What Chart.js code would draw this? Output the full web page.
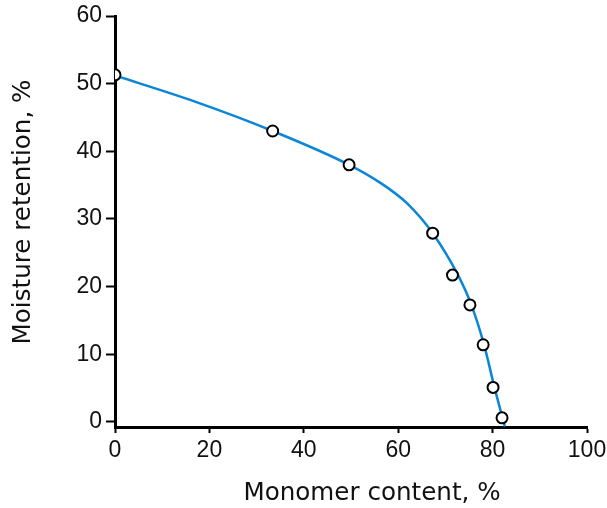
<!DOCTYPE html>
<html>
<head>
<meta charset="utf-8">
<script src="https://cdn.jsdelivr.net/npm/chart.js@4"></script>
<style>
html,body{margin:0;padding:0;background:#fff;}
canvas{display:block;}
</style>
</head>
<body>
<canvas id="c" width="607" height="508"></canvas>
<script>
// Measured data points (Monomer content %, Moisture retention %)
const monomerContent = [0, 33.4, 49.6, 67.3, 71.5, 75.2, 78.0, 80.1, 82.0];
const moistureRetention = [51.3, 43.0, 38.0, 27.9, 21.7, 17.3, 11.4, 5.1, 0.6];
// Smooth fitted curve
const curveX = [0, 17.1, 33.4, 49.6, 56.3, 61.9, 67.3, 72.6, 75.5, 78.2, 80.4, 82.6];
const curveY = [51.2, 47.3, 43.0, 38.0, 35.3, 32.3, 27.9, 21.8, 17.3, 11.4, 5.1, -0.7];
const xTicks = [0, 20, 40, 60, 80, 100];
const yTicks = [0, 10, 20, 30, 40, 50, 60];
const xTitle = 'Monomer content, %';
const yTitle = 'Moisture retention, %';

const titlePlugin = {
  id: 'axisTitles',
  afterDraw(chart) {
    const ctx = chart.ctx;
    ctx.save();
    ctx.fillStyle = '#111';
    ctx.font = '24.6px "DejaVu Sans"';
    ctx.textAlign = 'center';
    ctx.textBaseline = 'middle';
    ctx.fillText(xTitle, 372, 494);
    ctx.translate(24, 212);
    ctx.rotate(-Math.PI / 2);
    ctx.fillText(yTitle, 0, 0);
    ctx.restore();
  }
};

new Chart(document.getElementById('c'), {
  type: 'scatter',
  data: {
    datasets: [
      {
        data: curveX.map((x, i) => ({x, y: curveY[i]})),
        showLine: true,
        borderColor: '#0a86d8',
        borderWidth: 2.5,
        pointRadius: 0,
        cubicInterpolationMode: 'monotone',
        fill: false,
        order: 2
      },
      {
        data: monomerContent.map((x, i) => ({x, y: moistureRetention[i]})),
        showLine: false,
        pointRadius: 5.5,
        pointBackgroundColor: '#fff',
        pointBorderColor: '#000',
        pointBorderWidth: 2,
        order: 1
      }
    ]
  },
  options: {
    responsive: false,
    animation: false,
    devicePixelRatio: 1,
    layout: {padding: {top: 16, right: 20, left: 0, bottom: 0}},
    plugins: {legend: {display: false}, tooltip: {enabled: false}},
    scales: {
      x: {
        type: 'linear',
        min: 0,
        max: 100,
        afterBuildTicks(s) { s.ticks = xTicks.map(v => ({value: v})); },
        afterFit(s) { s.height = 81; s.paddingLeft = 0; s.paddingRight = 0; },
        grid: {display: true, drawOnChartArea: false, drawTicks: true, tickLength: 6, tickWidth: 2, tickColor: '#000'},
        border: {display: true, color: '#000', width: 3},
        ticks: {color: '#111', font: {family: '"Liberation Sans", Arial, sans-serif', size: 23}, padding: 4, maxRotation: 0}
      },
      y: {
        type: 'linear',
        min: -0.75,
        max: 60,
        afterBuildTicks(s) { s.ticks = yTicks.map(v => ({value: v})); },
        afterFit(s) { s.width = 115; s.paddingTop = 0; s.paddingBottom = 0; },
        grid: {display: true, drawOnChartArea: false, drawTicks: true, tickLength: 9, tickWidth: 2, tickColor: '#000'},
        border: {display: true, color: '#000', width: 3},
        ticks: {color: '#111', font: {family: '"Liberation Sans", Arial, sans-serif', size: 23}, padding: 4}
      }
    }
  },
  plugins: [titlePlugin]
});
</script>
</body>
</html>
